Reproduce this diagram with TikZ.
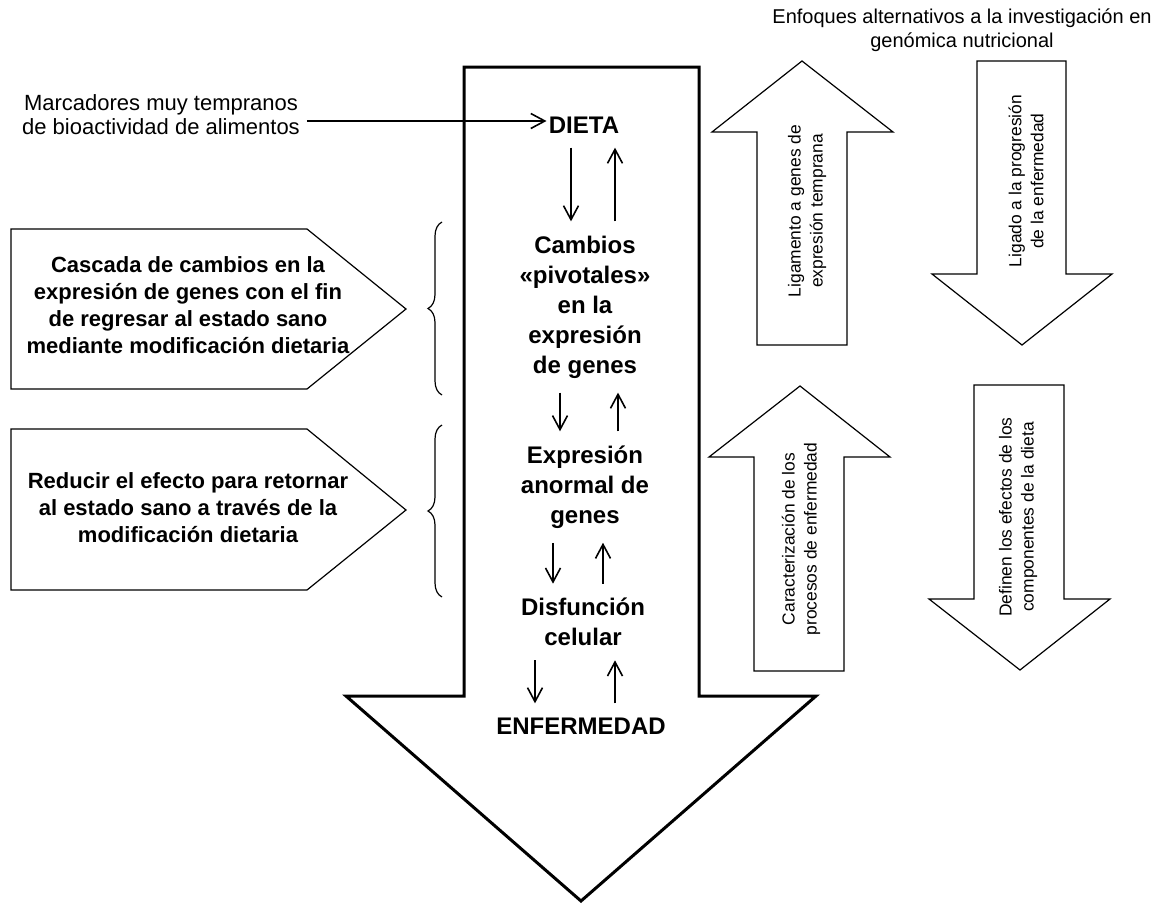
\documentclass[tikz,border=0pt]{standalone}
\usepackage{fontspec}
\setmainfont{Liberation Sans}
\usetikzlibrary{arrows.meta,decorations.pathreplacing}

\begin{document}
\begin{tikzpicture}[x=0.5pt,y=-0.5pt,
  big/.style={font=\bfseries\fontsize{12}{15}\selectfont,align=center,inner sep=1pt},
  side/.style={font=\bfseries\fontsize{11}{13.5}\selectfont,align=center},
  note/.style={font=\fontsize{10}{12}\selectfont,align=center},
  vnote/.style={font=\fontsize{8.7}{11}\selectfont,align=center,rotate=90},
  outline/.style={draw,line width=0.6pt,line join=miter},
  link/.style={-{Straight Barb[length=7pt,width=7.5pt]},line width=0.8pt},
  gap/.style={shorten <=6pt,shorten >=6pt},
  bracket/.style={decorate,decoration={brace,amplitude=7pt},line width=0.6pt}]
\useasboundingbox (0,0) rectangle (1168,905);

\draw[line width=1.5pt] (464,67) -- (699,67) -- (699,696) -- (816,696) -- (581,901) -- (346,696) -- (464,696) -- cycle;
\draw[outline] (11,229) -- (307,229) -- (406,309) -- (307,389) -- (11,389) -- cycle;
\draw[outline] (11,429) -- (307,429) -- (406,510) -- (307,590) -- (11,590) -- cycle;
\draw[outline] (757,345) -- (757,132) -- (712,132) -- (802,61) -- (893,132) -- (847,132) -- (847,345) -- cycle;
\draw[outline] (754,671) -- (754,457) -- (709,457) -- (800,386) -- (890,457) -- (844,457) -- (844,671) -- cycle;
\draw[outline] (977,61) -- (1066,61) -- (1066,274) -- (1112,274) -- (1022,345) -- (932,274) -- (977,274) -- cycle;
\draw[outline] (974,385) -- (1064,385) -- (1064,599) -- (1110,599) -- (1020,670) -- (929,599) -- (974,599) -- cycle;
\draw[bracket] (442,395) -- (442,222);
\draw[bracket] (442,597) -- (442,425);

\node[note] (enfoq) at (962,30) {Enfoques alternativos a la investigación en\\genómica nutricional};
\node[note,font=\fontsize{11}{12}\selectfont] (marc) at (161,115) {Marcadores muy tempranos\\de bioactividad de alimentos};
\node[big] (dieta) at (584,125) {DIETA};
\node[big] (cambios) at (585,307) {Cambios\\«pivotales»\\en la\\expresión\\de genes};
\node[big] (anormal) at (585,487) {Expresión\\anormal de\\genes};
\node[big] (disf) at (583,622) {Disfunción\\celular};
\node[big] (enf) at (581,726) {ENFERMEDAD};
\node[side] (casc) at (188,305) {Cascada de cambios en la\\expresión de genes con el fin\\de regresar al estado sano\\mediante modificación dietaria};
\node[side] (reduc) at (188,508) {Reducir el efecto para retornar\\al estado sano a través de la\\modificación dietaria};
\node[vnote] (liga) at (807,211) {Ligamento a genes de\\expresión temprana};
\node[vnote] (carac) at (801,539) {Caracterización de los\\procesos de enfermedad};
\node[vnote] (prog) at (1026,181) {Ligado a la progresión\\de la enfermedad};
\node[vnote] (efect) at (1018,517) {Definen los efectos de los\\componentes de la dieta};

\draw[link] ([yshift=-3pt]marc.east) -- ([yshift=2pt]dieta.west);
\draw[link,gap] (571,0 |- dieta.south) -- (571,0 |- cambios.north);
\draw[link,gap] (615,0 |- cambios.north) -- (615,0 |- dieta.south);
\draw[link,gap] (560,0 |- cambios.south) -- (560,0 |- anormal.north);
\draw[link,gap] (618,0 |- anormal.north) -- (618,0 |- cambios.south);
\draw[link,gap] (553,0 |- anormal.south) -- (553,0 |- disf.north);
\draw[link,gap] (603,0 |- disf.north) -- (603,0 |- anormal.south);
\draw[link,gap] (535,0 |- disf.south) -- (535,0 |- enf.north);
\draw[link,gap] (615,0 |- enf.north) -- (615,0 |- disf.south);
\end{tikzpicture}
\end{document}
